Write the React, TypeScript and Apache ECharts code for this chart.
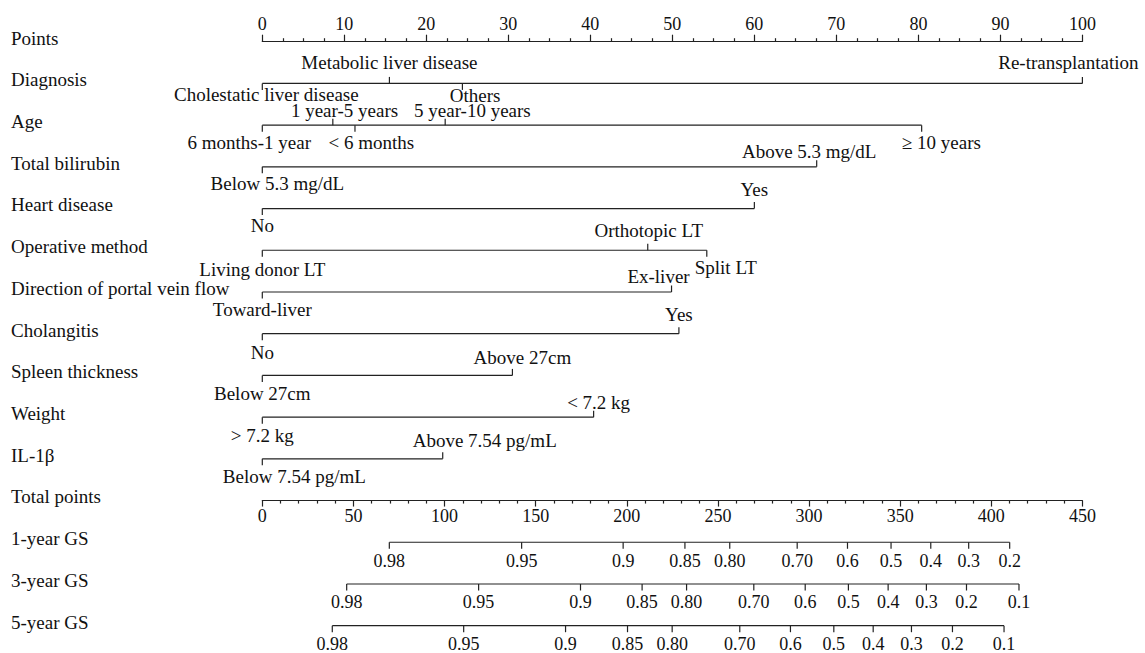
import React, { useEffect, useRef } from "react";
import * as echarts from "echarts";

// ---------- data ----------
const rowNames = [
  "Points",
  "Diagnosis",
  "Age",
  "Total bilirubin",
  "Heart disease",
  "Operative method",
  "Direction of portal vein flow",
  "Cholangitis",
  "Spleen thickness",
  "Weight",
  "IL-1β",
  "Total points",
  "1-year GS",
  "3-year GS",
  "5-year GS",
];

const diagnosisLevels = ["Cholestatic liver disease", "Metabolic liver disease", "Others", "Re-transplantation"];
const diagnosisPoints = [0, 15.5, 24.4, 100];
const ageLevels = ["6 months-1 year", "1 year-5 years", "< 6 months", "5 year-10 years", "≥ 10 years"];
const agePoints = [0, 8.6, 11.3, 22.3, 80.4];
const bilirubinLevels = ["Below 5.3 mg/dL", "Above 5.3 mg/dL"];
const bilirubinPoints = [0, 67.6];
const heartLevels = ["No", "Yes"];
const heartPoints = [0, 60.0];
const operativeLevels = ["Living donor LT", "Orthotopic LT", "Split LT"];
const operativePoints = [0, 47.0, 54.2];
const portalLevels = ["Toward-liver", "Ex-liver"];
const portalPoints = [0, 49.9];
const cholangitisLevels = ["No", "Yes"];
const cholangitisPoints = [0, 50.8];
const spleenLevels = ["Below 27cm", "Above 27cm"];
const spleenPoints = [0, 30.5];
const weightLevels = ["> 7.2 kg", "< 7.2 kg"];
const weightPoints = [0, 40.4];
const il1bLevels = ["Below 7.54 pg/mL", "Above 7.54 pg/mL"];
const il1bPoints = [0, 22.0];

const gs1Labels = ["0.98", "0.95", "0.9", "0.85", "0.80", "0.70", "0.6", "0.5", "0.4", "0.3", "0.2"];
const gs1Totals = [69.7, 142.3, 198.0, 231.9, 256.5, 293.5, 321.1, 345.0, 366.8, 387.6, 410.1];
const gs3Labels = ["0.98", "0.95", "0.9", "0.85", "0.80", "0.70", "0.6", "0.5", "0.4", "0.3", "0.2", "0.1"];
const gs3Totals = [46.3, 118.7, 174.6, 208.4, 232.8, 269.7, 297.9, 321.6, 343.4, 364.4, 386.4, 415.2];
const gs5Labels = ["0.98", "0.95", "0.9", "0.85", "0.80", "0.70", "0.6", "0.5", "0.4", "0.3", "0.2", "0.1"];
const gs5Totals = [38.4, 110.5, 166.4, 200.4, 224.9, 262.0, 289.8, 313.6, 335.2, 356.2, 378.7, 407.0];

const variableRows = [
  { index: 1, levels: diagnosisLevels, points: diagnosisPoints },
  { index: 2, levels: ageLevels, points: agePoints },
  { index: 3, levels: bilirubinLevels, points: bilirubinPoints },
  { index: 4, levels: heartLevels, points: heartPoints },
  { index: 5, levels: operativeLevels, points: operativePoints },
  { index: 6, levels: portalLevels, points: portalPoints },
  { index: 7, levels: cholangitisLevels, points: cholangitisPoints },
  { index: 8, levels: spleenLevels, points: spleenPoints },
  { index: 9, levels: weightLevels, points: weightPoints },
  { index: 10, levels: il1bLevels, points: il1bPoints },
];

const gsRows = [
  { index: 12, labels: gs1Labels, totals: gs1Totals },
  { index: 13, labels: gs3Labels, totals: gs3Totals },
  { index: 14, labels: gs5Labels, totals: gs5Totals },
];

// ---------- layout (pixel offsets of the level labels) ----------
const labelLayout = [
  { dx: [4, 0, 12.7, -14], dy: [11.5, -20.5, 12, -21] },
  { dx: [-13, 11.7, 16.4, 27.2, 19.7], dy: [17.7, -15, 17.7, -15, 17] },
  { dx: [15, -7.5], dy: [17, -15] },
  { dx: [0, 0], dy: [17, -19.3] },
  { dx: [0, 1, 19], dy: [19.7, -19.3, 17.3] },
  { dx: [0, -13], dy: [17.8, -15.7] },
  { dx: [0, 0], dy: [19, -18.9] },
  { dx: [0, 10], dy: [17.8, -18.2] },
  { dx: [0, 5], dy: [17.9, -14.8] },
  { dx: [32, 42], dy: [17.5, -18.6] },
];

const FONT = "'Liberation Serif', 'Times New Roman', serif";
const INK = "#111111";
const LINE = "#222222";

const GRID_LEFT = 262.3;
const GRID_RIGHT = 62.6;
const GRID_TOP = 41.7;
const GRID_BOTTOM = 27.3;
const ROW_STEP = (653 - GRID_BOTTOM - GRID_TOP) / 14;
const NAME_X = 11;
const NAME_DY = -3.7;

export default function App() {
  const ref = useRef<HTMLDivElement>(null);

  useEffect(() => {
    if (!ref.current) return;
    const chart = echarts.init(ref.current, null, { renderer: "svg" });

    const lineStyle = { color: LINE, width: 1.2 };

    const option = {
      animation: false,
      backgroundColor: "#ffffff",
      grid: { left: GRID_LEFT, right: GRID_RIGHT, top: GRID_TOP, bottom: GRID_BOTTOM, containLabel: false },
      xAxis: [
        {
          type: "value",
          position: "top",
          min: 0,
          max: 100,
          interval: 10,
          axisLine: { show: true, onZero: false, lineStyle },
          axisTick: { show: true, length: 7, lineStyle },
          minorTick: { show: true, splitNumber: 4, length: 3.5, lineStyle },
          splitLine: { show: false },
          minorSplitLine: { show: false },
          axisLabel: {
            fontSize: 18,
            fontFamily: FONT,
            color: INK,
            margin: 17.5,
            verticalAlign: "middle",
            showMinLabel: true,
            showMaxLabel: true,
          },
        },
        {
          type: "value",
          position: "bottom",
          offset: -(14 - 11) * ROW_STEP,
          min: 0,
          max: 450,
          interval: 50,
          axisLine: { show: true, onZero: false, lineStyle },
          axisTick: { show: true, length: 6, lineStyle },
          minorTick: { show: true, splitNumber: 5, length: 3, lineStyle },
          splitLine: { show: false },
          minorSplitLine: { show: false },
          axisLabel: {
            fontSize: 18,
            fontFamily: FONT,
            color: INK,
            margin: 15.7,
            verticalAlign: "middle",
            showMinLabel: true,
            showMaxLabel: true,
          },
        },
      ],
      yAxis: {
        type: "value",
        min: 0,
        max: 14,
        interval: 1,
        inverse: true,
        axisLine: { show: false },
        axisTick: { show: false },
        splitLine: { show: false },
        axisLabel: { show: false },
      },
      series: [
        {
          type: "custom",
          xAxisIndex: 0,
          yAxisIndex: 0,
          clip: false,
          silent: true,
          data: rowNames.map((_, i) => [0, i]),
          encode: { x: 0, y: 1 },
          renderItem: (params: any, api: any) => {
            const i = params.dataIndex;
            const y = api.coord([0, i])[1];
            return {
              type: "text",
              x: NAME_X,
              y: y + NAME_DY,
              style: {
                text: rowNames[i],
                fill: INK,
                fontSize: 19,
                fontFamily: FONT,
                align: "left",
                verticalAlign: "middle",
              },
            };
          },
        },
        {
          type: "custom",
          xAxisIndex: 0,
          yAxisIndex: 0,
          clip: false,
          silent: true,
          data: variableRows.map((r) => [0, r.index]),
          encode: { x: 0, y: 1 },
          renderItem: (params: any, api: any) => {
            const row = variableRows[params.dataIndex];
            const lay = labelLayout[params.dataIndex];
            const y = api.coord([0, row.index])[1];
            const xs = row.points.map((p) => api.coord([p, row.index])[0]);
            const children: any[] = [
              {
                type: "line",
                shape: { x1: Math.min(...xs), y1: y, x2: Math.max(...xs), y2: y },
                style: { stroke: LINE, lineWidth: 1.2 },
              },
            ];
            row.levels.forEach((lvl, i) => {
              const dy = lay.dy[i];
              const dir = dy < 0 ? -1 : 1;
              children.push({
                type: "line",
                shape: { x1: xs[i], y1: y, x2: xs[i], y2: y + dir * 6.5 },
                style: { stroke: LINE, lineWidth: 1.2 },
              });
              children.push({
                type: "text",
                x: xs[i] + lay.dx[i],
                y: y + dy,
                style: {
                  text: lvl,
                  fill: INK,
                  fontSize: 19,
                  fontFamily: FONT,
                  align: "center",
                  verticalAlign: "middle",
                },
              });
            });
            return { type: "group", children };
          },
        },
        {
          type: "custom",
          xAxisIndex: 1,
          yAxisIndex: 0,
          clip: false,
          silent: true,
          data: gsRows.map((r) => [0, r.index]),
          encode: { x: 0, y: 1 },
          renderItem: (params: any, api: any) => {
            const row = gsRows[params.dataIndex];
            const y = api.coord([0, row.index])[1];
            const xs = row.totals.map((t) => api.coord([t, row.index])[0]);
            const children: any[] = [
              {
                type: "line",
                shape: { x1: Math.min(...xs), y1: y, x2: Math.max(...xs), y2: y },
                style: { stroke: LINE, lineWidth: 1.2 },
              },
            ];
            row.labels.forEach((lbl, i) => {
              children.push({
                type: "line",
                shape: { x1: xs[i], y1: y, x2: xs[i], y2: y + 6.5 },
                style: { stroke: LINE, lineWidth: 1.2 },
              });
              children.push({
                type: "text",
                x: xs[i],
                y: y + 18.5,
                style: {
                  text: lbl,
                  fill: INK,
                  fontSize: 18,
                  fontFamily: FONT,
                  align: "center",
                  verticalAlign: "middle",
                },
              });
            });
            return { type: "group", children };
          },
        },
      ],
    };

    chart.setOption(option as any);
    return () => chart.dispose();
  }, []);

  return (
    <div
      ref={ref}
      style={{ position: "fixed", left: 0, top: 0, width: 1145, height: 653, background: "#fff" }}
    />
  );
}
